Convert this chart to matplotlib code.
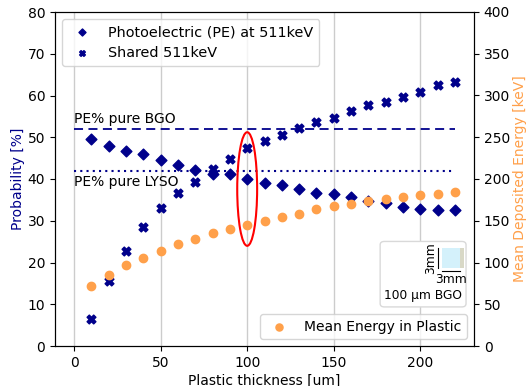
import matplotlib
matplotlib.use("Agg")
import matplotlib.pyplot as plt
from matplotlib.patches import Ellipse, FancyBboxPatch, Rectangle
from matplotlib.lines import Line2D

# Data
thickness = [10, 20, 30, 40, 50, 60, 70, 80, 90, 100, 110, 120, 130, 140, 150,
             160, 170, 180, 190, 200, 210, 220]
pe_prob = [49.7, 47.9, 46.8, 46.0, 44.5, 43.3, 42.2, 41.2, 41.2, 40.0, 39.0, 38.6,
           37.6, 36.6, 36.3, 35.8, 34.8, 34.3, 33.4, 32.8, 32.6, 32.6]
shared_prob = [6.4, 15.6, 22.7, 28.4, 33.1, 36.7, 39.4, 42.3, 44.8, 47.4, 49.1, 50.5,
               52.1, 53.6, 54.7, 56.2, 57.7, 58.4, 59.6, 60.8, 62.4, 63.2]
mean_energy = [72.2, 85.4, 96.6, 105.0, 114.2, 121.8, 127.8, 135.0, 140.1, 144.9,
               149.7, 154.1, 158.1, 163.7, 167.3, 170.0, 173.7, 176.0, 178.8, 180.8,
               182.0, 184.4]
pe_pure_bgo = 52.0
pe_pure_lyso = 41.8

navy = "#00008b"
orange = "#ffa04a"

plt.rcParams["font.size"] = 10
fig = plt.figure(figsize=(5.28, 3.86), dpi=100)
ax = fig.add_axes([55 / 528, 40 / 386, 419 / 528, 334 / 386])
ax2 = ax.twinx()

ax.scatter(thickness, pe_prob, marker="D", color=navy, s=30, label="Photoelectric (PE) at 511keV", zorder=3)
ax.scatter(thickness, shared_prob, marker="X", color=navy, s=40, label="Shared 511keV", zorder=3)
ax.hlines(pe_pure_bgo, 0, 220, colors=navy, linestyles=(0, (5, 3)), linewidth=1.3)
ax.hlines(pe_pure_lyso, 0, 220, colors=navy, linestyles=(0, (1, 2)), linewidth=1.5)
ax.text(0, pe_pure_bgo + 0.6, "PE% pure BGO", ha="left", va="bottom")
ax.text(0, pe_pure_lyso - 0.8, "PE% pure LYSO", ha="left", va="top")
ax.add_patch(Ellipse((100, 37.6), 11.5, 27.2, fill=False, edgecolor="red", linewidth=1.5, zorder=4))

ax2.scatter(thickness, mean_energy, marker="o", color=orange, s=36, label="Mean Energy in Plastic", zorder=3)

ax.set_ylim(0, 80)
ax2.set_ylim(0, 400)
ax.set_xlim(-11, 231)
ax.set_xticks([0, 50, 100, 150, 200])
ax.grid(axis="x", color="#cccccc", linewidth=1)
ax.set_axisbelow(True)
ax.set_xlabel("Plastic thickness [um]", labelpad=3)
ax.set_ylabel("Probability [%]", color=navy, labelpad=2)
ax2.set_ylabel("Mean Deposited Energy [keV]", color=orange, labelpad=2)

ax.legend(loc="upper left", fontsize=10.4, markerscale=0.65)
ax2.legend(loc="lower right", markerscale=0.85)

# geometry inset box (lower right)
ax2.add_patch(FancyBboxPatch((0.776, 0.117), 0.205, 0.196, transform=ax2.transAxes,
                             boxstyle="round,pad=0,rounding_size=0.01",
                             facecolor="white", edgecolor="#d9d9d9", linewidth=1, zorder=5))
ax2.add_patch(Rectangle((0.923, 0.233), 0.044, 0.060, transform=ax2.transAxes,
                        facecolor="#d4f1fb", edgecolor="none", zorder=6))
ax2.add_patch(Rectangle((0.967, 0.233), 0.009, 0.060, transform=ax2.transAxes,
                        facecolor="#d8d8c6", edgecolor="none", zorder=6))
ax2.add_line(Line2D([0.913, 0.913], [0.233, 0.293], transform=ax2.transAxes, color="black", linewidth=0.8, zorder=6))
ax2.add_line(Line2D([0.923, 0.967], [0.224, 0.224], transform=ax2.transAxes, color="black", linewidth=0.8, zorder=6))
ax2.text(0.945, 0.219, "3mm", transform=ax2.transAxes, ha="center", va="top", fontsize=8.8, zorder=7)
ax2.text(0.897, 0.263, "3mm", transform=ax2.transAxes, ha="center", va="center", rotation=90, fontsize=8.8, zorder=7)
ax2.text(0.878, 0.152, "100 µm BGO", transform=ax2.transAxes, ha="center", va="center", fontsize=8.8, zorder=7)

fig.savefig("out.png", dpi=100)
